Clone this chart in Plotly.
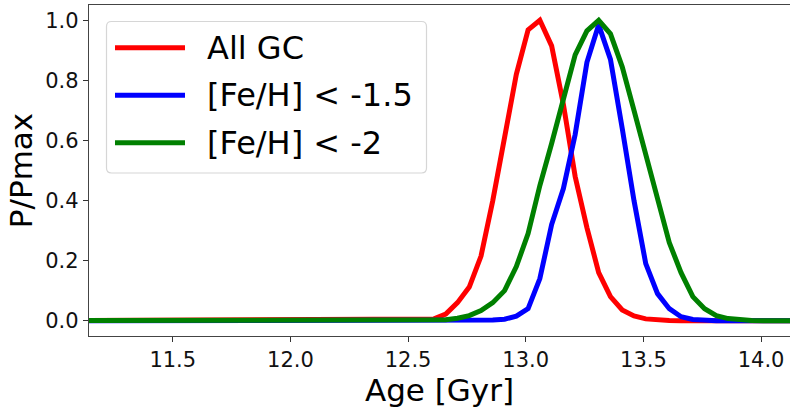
import plotly.graph_objects as go

# ---- data ----
ages = [11.0, 12.56, 12.61, 12.66, 12.71, 12.76, 12.81, 12.86, 12.91, 12.96, 13.01,
        13.06, 13.11, 13.16, 13.21, 13.26, 13.31, 13.36, 13.41, 13.46, 13.51, 13.56,
        13.61, 13.66, 13.71, 13.76, 13.81, 13.86, 13.91, 13.96, 14.01, 14.2]
all_gc = [0, 0.002, 0.006, 0.022, 0.06, 0.112, 0.215, 0.40, 0.61, 0.82, 0.968,
          1.0, 0.915, 0.72, 0.48, 0.31, 0.16, 0.08, 0.036, 0.016, 0.006, 0.002,
          0.001, 0, 0, 0, 0, 0, 0, 0, 0, 0]
feh_15 = [0, 0, 0, 0, 0, 0, 0.001, 0.002, 0.005, 0.015, 0.04,
          0.14, 0.32, 0.44, 0.62, 0.86, 0.985, 0.87, 0.64, 0.40, 0.19, 0.09,
          0.04, 0.013, 0.004, 0.001, 0, 0, 0, 0, 0, 0]
feh_2 = [0, 0, 0.001, 0.003, 0.008, 0.017, 0.034, 0.06, 0.10, 0.18, 0.29,
         0.45, 0.59, 0.735, 0.885, 0.965, 1.0, 0.955, 0.845, 0.70, 0.55, 0.40,
         0.26, 0.16, 0.08, 0.04, 0.017, 0.007, 0.003, 0.001, 0, 0]
series_names = ["All GC", "[Fe/H] < -1.5", "[Fe/H] < -2"]
series_values = [all_gc, feh_15, feh_2]
series_colors = ["#ff0000", "#0000ff", "#008000"]
x_ticks = [11.5, 12.0, 12.5, 13.0, 13.5, 14.0]
y_ticks = [0.0, 0.2, 0.4, 0.6, 0.8, 1.0]

FONT = "DejaVu Sans"

fig = go.Figure()
for name, vals, col in zip(series_names, series_values, series_colors):
    fig.add_trace(go.Scatter(x=ages, y=vals, mode="lines", name=name,
                             line=dict(color=col, width=5), showlegend=False))

# custom legend (matplotlib-like) in paper coordinates
W, H = 790, 408
ml, mr, mt, mb = 89, 0, 5, 72
pw, ph = W - ml - mr, H - mt - mb


def px2paper(x, y):
    return (x - ml) / pw, 1 - (y - mt) / ph


# rounded legend frame
L, T, R, B, r = 106.5, 21.5, 426.5, 173, 5
pts = []
def P(x, y):
    px, py = px2paper(x, y)
    return f"{px:.5f},{py:.5f}"
path = (f"M{P(L + r, T)} L{P(R - r, T)} Q{P(R, T)} {P(R, T + r)} "
        f"L{P(R, B - r)} Q{P(R, B)} {P(R - r, B)} L{P(L + r, B)} Q{P(L, B)} {P(L, B - r)} "
        f"L{P(L, T + r)} Q{P(L, T)} {P(L + r, T)} Z")
fig.add_shape(type="path", xref="paper", yref="paper", path=path,
              line=dict(color="#d6d6d6", width=1.2), fillcolor="rgba(255,255,255,0.8)",
              layer="above")
for i, (name, col) in enumerate(zip(series_names, series_colors)):
    yc = 47.7 + i * 47.5
    lx0, ly = px2paper(115, yc)
    lx1, _ = px2paper(185, yc)
    fig.add_shape(type="line", xref="paper", yref="paper", x0=lx0, x1=lx1, y0=ly, y1=ly,
                  line=dict(color=col, width=5), layer="above")
    tx, _ = px2paper(205, yc)
    fig.add_annotation(x=tx, y=ly, xref="paper", yref="paper", text=name, showarrow=False,
                       xanchor="left", yanchor="middle",
                       font=dict(family=FONT, size=32, color="#000"))

fig.update_layout(
    width=W, height=H,
    margin=dict(l=ml, r=mr, t=mt, b=mb),
    paper_bgcolor="white", plot_bgcolor="white",
    font=dict(family=FONT, color="#000"),
)
fig.update_xaxes(range=[11.144, 14.123], tickvals=x_ticks, automargin=False,
                 ticktext=[f"{v:.1f}" for v in x_ticks],
                 ticks="outside", ticklen=5, tickwidth=1.2, tickcolor="#333",
                 showline=True, linecolor="#444", linewidth=1.3, mirror=True,
                 showgrid=False, zeroline=False,
                 tickfont=dict(family=FONT, size=21, color="#111"),
                 title=dict(text="Age [Gyr]", font=dict(family=FONT, size=31), standoff=3))
fig.update_yaxes(range=[-0.051, 1.051], tickvals=y_ticks, automargin=False,
                 ticktext=[f"{v:.1f}" for v in y_ticks],
                 ticks="outside", ticklen=5, tickwidth=1.2, tickcolor="#333",
                 showline=True, linecolor="#444", linewidth=1.3, mirror=False,
                 showgrid=False, zeroline=False,
                 tickfont=dict(family=FONT, size=21, color="#111"),
                 title=dict(text="P/Pmax", font=dict(family=FONT, size=31), standoff=3))

fig.write_html("out.html", config={"displayModeBar": False},
               post_script="document.body.style.margin='0';")
